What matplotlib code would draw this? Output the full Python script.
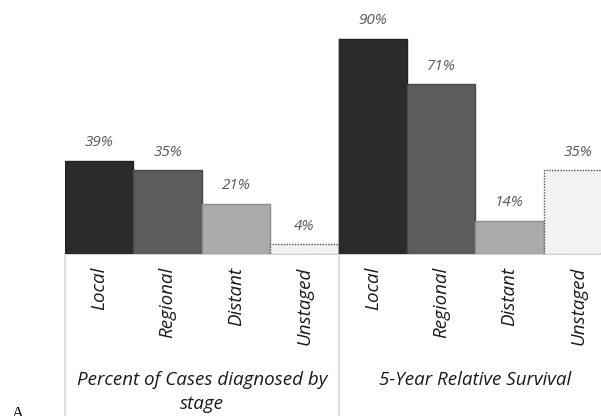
"""Stage distribution and 5-year relative survival, grouped bar chart."""

import matplotlib.pyplot as plt

STAGES = ["Local", "Regional", "Distant", "Unstaged"]
GROUPS = ["Percent of Cases diagnosed by\nstage", "5-Year Relative Survival"]
PCT_DIAGNOSED = [39, 35, 21, 4]
PCT_SURVIVAL = [90, 71, 14, 35]

FACE = ["#2b2b2b", "#5c5c5c", "#adaaaa", "#f2f2f2"]
EDGE = ["#222222", "#484848", "#8f8c8c", "#505050"]
STYLE = ["solid", "solid", "solid", (0, (1, 1))]

FONT = ["Open Sans", "DejaVu Sans"]


def main():
    fig = plt.figure(figsize=(6.01, 4.16), dpi=100)
    ax = fig.add_axes([65 / 601, 162 / 416, 536 / 601, 254 / 416])

    values = PCT_DIAGNOSED + PCT_SURVIVAL
    n = len(STAGES)
    for i, v in enumerate(values):
        k = i % n
        ax.bar(i, v, width=1.0, color=FACE[k], edgecolor=EDGE[k],
               linewidth=1.0, linestyle=STYLE[k], zorder=2)
        ax.text(i, v + 4.4, f"{v}%", ha="center", va="bottom",
                fontsize=11, style="italic", color="#595959", family=FONT)

    ax.set_xlim(-0.5, -0.5 + 536 / 68.4)
    ax.set_ylim(0, 106.3)
    ax.axis("off")

    # category axis: baseline, group separators and labels below the plot
    ax.axhline(0, color="#d4d4d4", linewidth=1.5, zorder=1, clip_on=False)
    for x in (-0.5, 3.5, 7.5):
        ax.plot([x, x], [0, -80], color="#d9d9d9", linewidth=1.2,
                clip_on=False, zorder=1)
    ax.plot([3.5, 3.5], [0, 90], color="#2b2b2b", linewidth=1.0, zorder=3)

    for i in range(len(values)):
        ax.text(i, -5.4, STAGES[i % n], rotation=90, ha="center", va="top",
                fontsize=13.5, style="italic", color="#1a1a1a", family=FONT)

    for g, label in enumerate(GROUPS):
        ax.text(g * n + 1.5, -49.0, label, ha="center", va="top",
                fontsize=13.5, style="italic", color="#1a1a1a", family=FONT,
                linespacing=1.45)

    fig.text(18 / 601, -0.015, "A", family="Liberation Serif", fontsize=12,
             ha="center", va="bottom", color="#000000")

    fig.savefig("out.png", dpi=100)


if __name__ == "__main__":
    main()
